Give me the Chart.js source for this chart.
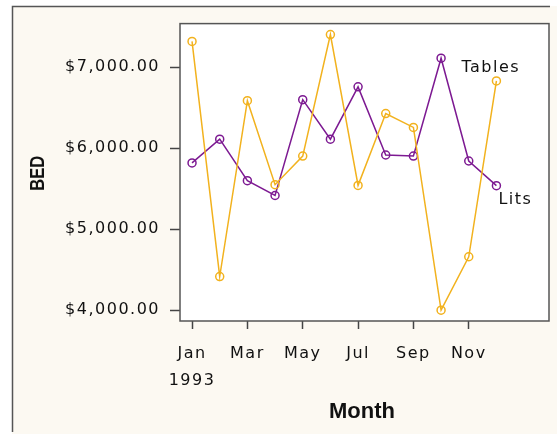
<!DOCTYPE html>
<html>
<head>
<meta charset="utf-8">
<script src="https://cdn.jsdelivr.net/npm/chart.js@4.4.1/dist/chart.umd.min.js"></script>
<style>
    html, body { margin: 0; padding: 0; background: #ffffff; }
    #wrap { width: 557px; height: 434px; }
</style>
</head>
<body>
<div id="wrap"><canvas id="bedChart" width="557" height="434"></canvas></div>
<script>
const months = ["Jan", "Feb", "Mar", "Apr", "May", "Jun", "Jul", "Aug", "Sep", "Oct", "Nov", "Dec"];
const year = "1993";
const tables = [7317, 4415, 6585, 5549, 5902, 7402, 5540, 6427, 6256, 4000, 4659, 6829];
const lits = [5817, 6110, 5598, 5415, 6598, 6110, 6756, 5915, 5902, 7110, 5841, 5537];
const yTicks = [4000, 5000, 6000, 7000];
const xTicks = [0, 2, 4, 6, 8, 10];
const xTitle = "Month";
const yTitle = "BED";

const orange = "#f2b21e";
const purple = "#7d1a92";
const tickFont = {family: "DejaVu Sans", size: 16, lineHeight: 1.7};

// cream frame behind everything, box around the plot, titles and end labels
const framePlugin = {
    id: "frame",
    beforeDraw(chart) {
        const ctx = chart.ctx;
        ctx.save();
        ctx.fillStyle = "#ffffff";
        ctx.fillRect(0, 0, chart.width, chart.height);
        ctx.fillStyle = "#fcf9f2";
        ctx.fillRect(12, 6, chart.width - 12, chart.height - 6);
        ctx.strokeStyle = "#555555";
        ctx.lineWidth = 1.5;
        ctx.beginPath();
        ctx.moveTo(12.5, chart.height - 2);
        ctx.lineTo(12.5, 6.5);
        ctx.lineTo(550, 6.5);
        ctx.stroke();
        const a = chart.chartArea;
        ctx.fillStyle = "#ffffff";
        ctx.fillRect(a.left, a.top, a.right - a.left, a.bottom - a.top);
        ctx.restore();
        // the tick labels are drawn letter-spaced
        ctx.letterSpacing = "1.5px";
    },
    afterDraw(chart) {
        const ctx = chart.ctx;
        const a = chart.chartArea;
        ctx.save();
        ctx.strokeStyle = "#555555";
        ctx.lineWidth = 1.5;
        ctx.strokeRect(a.left, a.top, a.right - a.left, a.bottom - a.top);

        const x = chart.scales.x;
        const y = chart.scales.y;
        const last = months.length - 1;
        ctx.fillStyle = "#111111";
        ctx.font = "16px 'DejaVu Sans'";
        ctx.letterSpacing = "1.5px";
        ctx.textBaseline = "middle";
        ctx.textAlign = "left";
        ctx.fillText("Tables", x.getPixelForValue(last) - 35, y.getPixelForValue(tables[last]) - 13);
        ctx.fillText("Lits", x.getPixelForValue(last) + 2, y.getPixelForValue(lits[last]) + 14);

        // axis titles, bold and narrow
        ctx.letterSpacing = "0px";
        ctx.textAlign = "center";
        ctx.font = "bold 22px 'Liberation Sans'";
        ctx.fillText(xTitle, 362, 412);

        ctx.translate(38.5, (a.top + a.bottom) / 2 + 1);
        ctx.rotate(-Math.PI / 2);
        ctx.scale(0.83, 1);
        ctx.font = "bold 20px 'Liberation Sans'";
        ctx.fillText(yTitle, 0, 0);
        ctx.restore();
    }
};

const ctx = document.getElementById("bedChart").getContext("2d");

new Chart(ctx, {
    type: "line",
    data: {
        datasets: [
            {
                label: "Tables",
                data: months.map((m, i) => ({x: i, y: tables[i]})),
                borderColor: orange,
                backgroundColor: "rgba(0,0,0,0)",
                borderWidth: 1.5,
                pointRadius: 4,
                pointBorderWidth: 1.5,
                pointBorderColor: orange,
                pointBackgroundColor: "rgba(0,0,0,0)",
                tension: 0
            },
            {
                label: "Lits",
                data: months.map((m, i) => ({x: i, y: lits[i]})),
                borderColor: purple,
                backgroundColor: "rgba(0,0,0,0)",
                borderWidth: 1.5,
                pointRadius: 4,
                pointBorderWidth: 1.5,
                pointBorderColor: purple,
                pointBackgroundColor: "rgba(0,0,0,0)",
                tension: 0
            }
        ]
    },
    options: {
        responsive: false,
        animation: false,
        layout: {padding: {top: 19, right: 8, left: 0, bottom: 0}},
        plugins: {
            legend: {display: false},
            tooltip: {enabled: false}
        },
        scales: {
            x: {
                type: "linear",
                min: -0.435,
                max: 12.9,
                afterBuildTicks: scale => {
                    scale.ticks = xTicks.map(v => ({value: v}));
                },
                afterFit: scale => {
                    scale.height = 113;
                },
                grid: {drawOnChartArea: false, drawTicks: true, tickLength: 8, tickColor: "#444444", tickWidth: 1.5},
                border: {display: false},
                ticks: {
                    color: "#111111",
                    font: tickFont,
                    padding: 11,
                    maxRotation: 0,
                    autoSkip: false,
                    callback: v => v === 0 ? [months[v], year] : months[v]
                }
            },
            y: {
                min: 3866,
                max: 7537,
                afterBuildTicks: scale => {
                    scale.ticks = yTicks.map(v => ({value: v}));
                },
                afterFit: scale => {
                    scale.width = 180;
                },
                grid: {drawOnChartArea: false, drawTicks: true, tickLength: 10, tickColor: "#444444", tickWidth: 1.5},
                border: {display: false},
                ticks: {
                    color: "#111111",
                    font: tickFont,
                    padding: 10,
                    callback: v => "$" + v.toLocaleString("en-US", {minimumFractionDigits: 2, maximumFractionDigits: 2})
                }
            }
        }
    },
    plugins: [framePlugin]
});
</script>
</body>
</html>
